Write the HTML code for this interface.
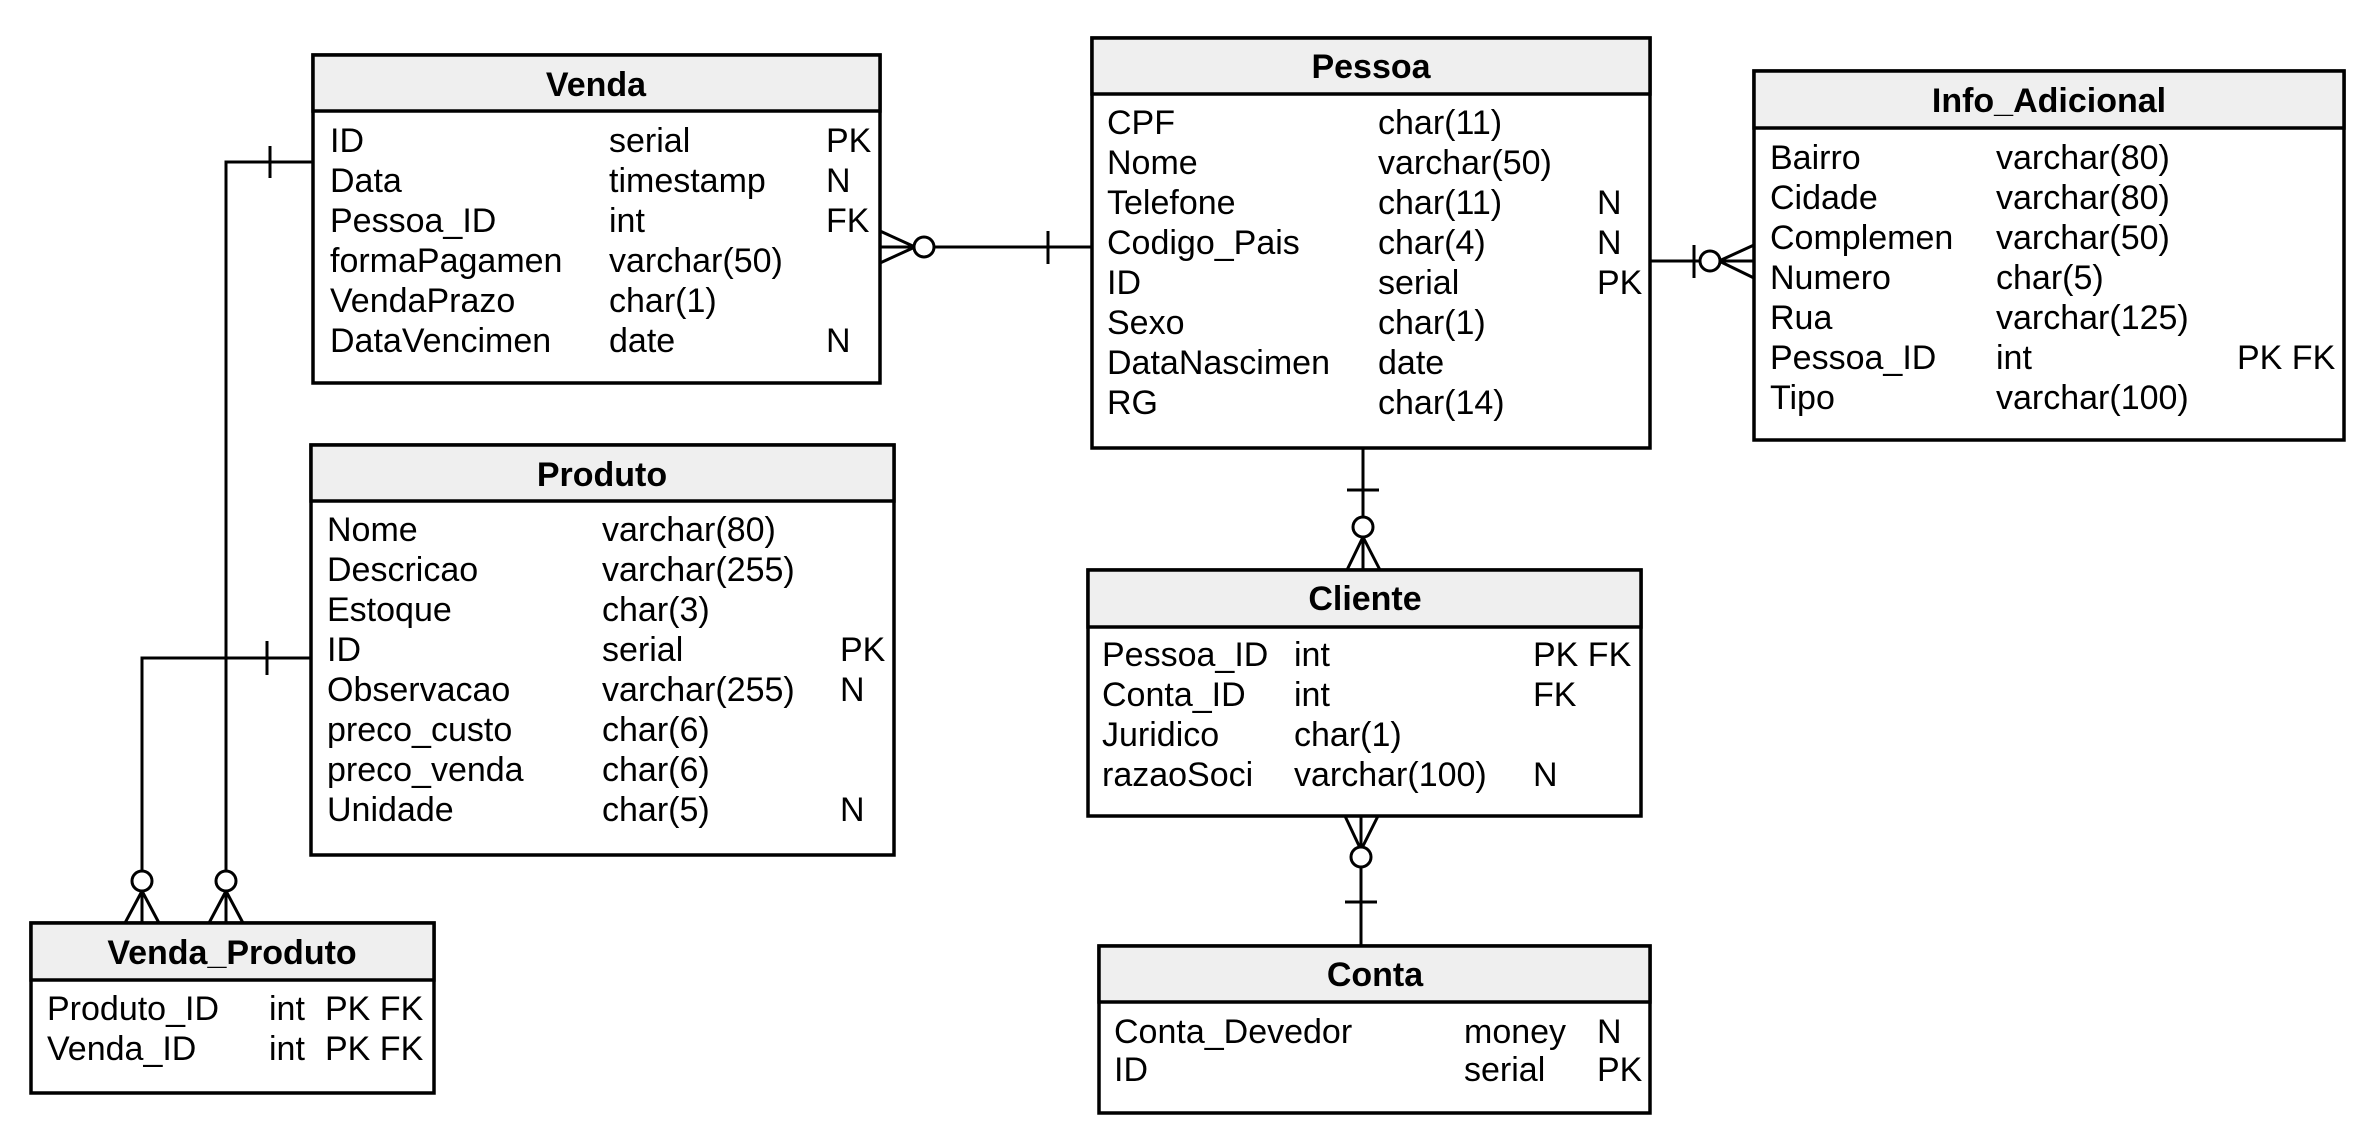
<!DOCTYPE html>
<html><head><meta charset="utf-8"><style>
html,body{margin:0;padding:0;background:#fff;}
svg{display:block;}
text{font-family:"Liberation Sans",Arial,sans-serif;font-size:34px;fill:#000;}
.t{font-weight:bold;text-anchor:middle;}
.b{fill:#fff;stroke:#000;stroke-width:3.5;}
.h{fill:#efefef;stroke:#000;stroke-width:3.5;}
.l{stroke:#000;stroke-width:3;fill:none;}
.c{stroke:#000;stroke-width:3;fill:#fff;}
</style></head><body>
<svg width="2374" height="1133" viewBox="0 0 2374 1133" xmlns="http://www.w3.org/2000/svg">
<polyline class="l" points="313,162 226,162 226,923"/>
<line class="l" x1="270" y1="146" x2="270" y2="178"/>
<line class="l" x1="226" y1="891" x2="209" y2="923"/><line class="l" x1="226" y1="891" x2="243" y2="923"/>
<circle class="c" cx="226" cy="881" r="10"/>
<polyline class="l" points="311,658 142,658 142,923"/>
<line class="l" x1="267" y1="641" x2="267" y2="675"/>
<line class="l" x1="142" y1="891" x2="125" y2="923"/><line class="l" x1="142" y1="891" x2="159" y2="923"/>
<circle class="c" cx="142" cy="881" r="10"/>
<line class="l" x1="880" y1="247" x2="1092" y2="247"/>
<line class="l" x1="1048" y1="231" x2="1048" y2="264"/>
<line class="l" x1="915" y1="247" x2="880" y2="231"/><line class="l" x1="915" y1="247" x2="880" y2="263"/>
<circle class="c" cx="924" cy="247" r="10"/>
<line class="l" x1="1650" y1="261" x2="1754" y2="261"/>
<line class="l" x1="1694" y1="245" x2="1694" y2="278"/>
<line class="l" x1="1719" y1="261" x2="1754" y2="245"/><line class="l" x1="1719" y1="261" x2="1754" y2="278"/>
<circle class="c" cx="1710" cy="261" r="10"/>
<line class="l" x1="1363" y1="448" x2="1363" y2="570"/>
<line class="l" x1="1347" y1="490" x2="1379" y2="490"/>
<line class="l" x1="1363" y1="537" x2="1347" y2="570"/><line class="l" x1="1363" y1="537" x2="1380" y2="570"/>
<circle class="c" cx="1363" cy="527" r="10"/>
<line class="l" x1="1361" y1="816" x2="1361" y2="946"/>
<line class="l" x1="1345" y1="902" x2="1377" y2="902"/>
<line class="l" x1="1361" y1="850" x2="1345" y2="816"/><line class="l" x1="1361" y1="850" x2="1378" y2="816"/>
<circle class="c" cx="1361" cy="857" r="10"/>

<rect class="b" x="313" y="55" width="567" height="328"/>
<rect class="h" x="313" y="55" width="567" height="56"/>
<text class="t" x="596" y="96">Venda</text>
<g transform="translate(0,152)">
<text x="330" y="0">ID</text><text x="609" y="0">serial</text><text x="826" y="0">PK</text>
<text x="330" y="40">Data</text><text x="609" y="40">timestamp</text><text x="826" y="40">N</text>
<text x="330" y="80">Pessoa_ID</text><text x="609" y="80">int</text><text x="826" y="80">FK</text>
<text x="330" y="120">formaPagamen</text><text x="609" y="120">varchar(50)</text>
<text x="330" y="160">VendaPrazo</text><text x="609" y="160">char(1)</text>
<text x="330" y="200">DataVencimen</text><text x="609" y="200">date</text><text x="826" y="200">N</text>
</g>

<rect class="b" x="311" y="445" width="583" height="410"/>
<rect class="h" x="311" y="445" width="583" height="56"/>
<text class="t" x="602" y="486">Produto</text>
<g transform="translate(0,541)">
<text x="327" y="0">Nome</text><text x="602" y="0">varchar(80)</text>
<text x="327" y="40">Descricao</text><text x="602" y="40">varchar(255)</text>
<text x="327" y="80">Estoque</text><text x="602" y="80">char(3)</text>
<text x="327" y="120">ID</text><text x="602" y="120">serial</text><text x="840" y="120">PK</text>
<text x="327" y="160">Observacao</text><text x="602" y="160">varchar(255)</text><text x="840" y="160">N</text>
<text x="327" y="200">preco_custo</text><text x="602" y="200">char(6)</text>
<text x="327" y="240">preco_venda</text><text x="602" y="240">char(6)</text>
<text x="327" y="280">Unidade</text><text x="602" y="280">char(5)</text><text x="840" y="280">N</text>
</g>

<rect class="b" x="31" y="923" width="403" height="170"/>
<rect class="h" x="31" y="923" width="403" height="57"/>
<text class="t" x="232" y="964">Venda_Produto</text>
<g transform="translate(0,1020)">
<text x="47" y="0">Produto_ID</text><text x="269" y="0">int</text><text x="325" y="0">PK FK</text>
<text x="47" y="40">Venda_ID</text><text x="269" y="40">int</text><text x="325" y="40">PK FK</text>
</g>

<rect class="b" x="1092" y="38" width="558" height="410"/>
<rect class="h" x="1092" y="38" width="558" height="56"/>
<text class="t" x="1371" y="78">Pessoa</text>
<g transform="translate(0,134)">
<text x="1107" y="0">CPF</text><text x="1378" y="0">char(11)</text>
<text x="1107" y="40">Nome</text><text x="1378" y="40">varchar(50)</text>
<text x="1107" y="80">Telefone</text><text x="1378" y="80">char(11)</text><text x="1597" y="80">N</text>
<text x="1107" y="120">Codigo_Pais</text><text x="1378" y="120">char(4)</text><text x="1597" y="120">N</text>
<text x="1107" y="160">ID</text><text x="1378" y="160">serial</text><text x="1597" y="160">PK</text>
<text x="1107" y="200">Sexo</text><text x="1378" y="200">char(1)</text>
<text x="1107" y="240">DataNascimen</text><text x="1378" y="240">date</text>
<text x="1107" y="280">RG</text><text x="1378" y="280">char(14)</text>
</g>

<rect class="b" x="1754" y="71" width="590" height="369"/>
<rect class="h" x="1754" y="71" width="590" height="57"/>
<text class="t" x="2049" y="112">Info_Adicional</text>
<g transform="translate(0,169)">
<text x="1770" y="0">Bairro</text><text x="1996" y="0">varchar(80)</text>
<text x="1770" y="40">Cidade</text><text x="1996" y="40">varchar(80)</text>
<text x="1770" y="80">Complemen</text><text x="1996" y="80">varchar(50)</text>
<text x="1770" y="120">Numero</text><text x="1996" y="120">char(5)</text>
<text x="1770" y="160">Rua</text><text x="1996" y="160">varchar(125)</text>
<text x="1770" y="200">Pessoa_ID</text><text x="1996" y="200">int</text><text x="2237" y="200">PK FK</text>
<text x="1770" y="240">Tipo</text><text x="1996" y="240">varchar(100)</text>
</g>

<rect class="b" x="1088" y="570" width="553" height="246"/>
<rect class="h" x="1088" y="570" width="553" height="57"/>
<text class="t" x="1365" y="610">Cliente</text>
<g transform="translate(0,666)">
<text x="1102" y="0">Pessoa_ID</text><text x="1294" y="0">int</text><text x="1533" y="0">PK FK</text>
<text x="1102" y="40">Conta_ID</text><text x="1294" y="40">int</text><text x="1533" y="40">FK</text>
<text x="1102" y="80">Juridico</text><text x="1294" y="80">char(1)</text>
<text x="1102" y="120">razaoSoci</text><text x="1294" y="120">varchar(100)</text><text x="1533" y="120">N</text>
</g>

<rect class="b" x="1099" y="946" width="551" height="167"/>
<rect class="h" x="1099" y="946" width="551" height="56"/>
<text class="t" x="1375" y="986">Conta</text>
<g transform="translate(0,1043)">
<text x="1114" y="0">Conta_Devedor</text><text x="1464" y="0">money</text><text x="1597" y="0">N</text>
<text x="1114" y="38">ID</text><text x="1464" y="38">serial</text><text x="1597" y="38">PK</text>
</g>
</svg>
</body></html>
